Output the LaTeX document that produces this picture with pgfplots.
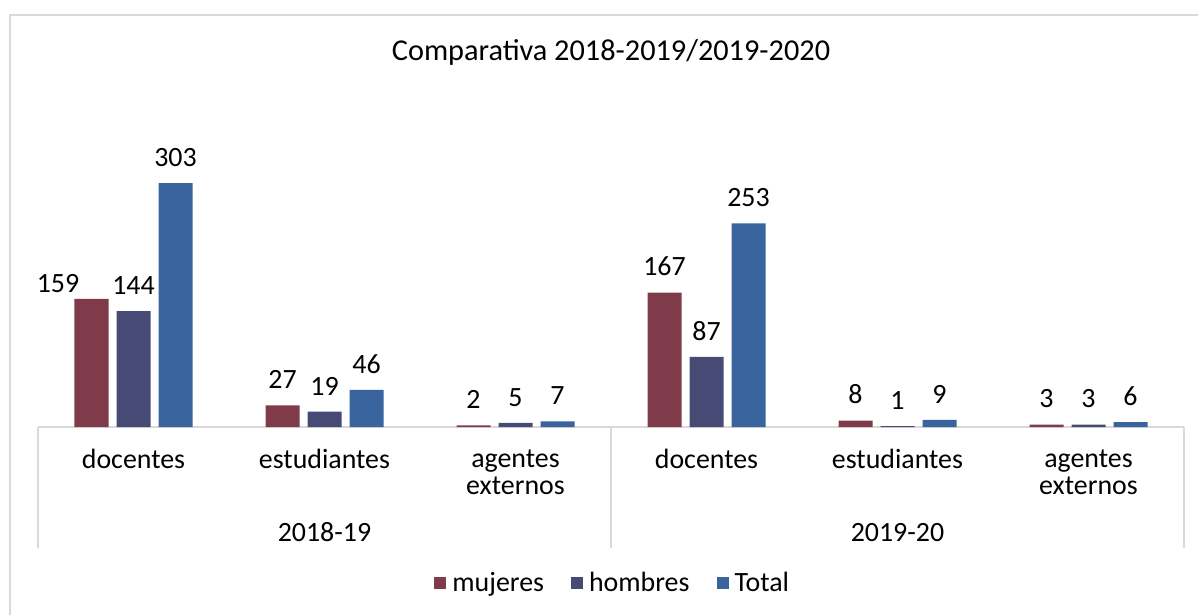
\documentclass[border=0pt]{standalone}
\usepackage{pgfplots}
\pgfplotsset{compat=1.18}
\usepackage{fontspec}
\setmainfont{Carlito}
\definecolor{cMuj}{RGB}{128,59,74}
\definecolor{cHom}{RGB}{72,74,118}
\definecolor{cTot}{RGB}{57,100,158}
\definecolor{cGrid}{RGB}{217,217,217}
\begin{document}
\begin{tikzpicture}
\useasboundingbox (0,0) rectangle (599bp,307.5bp);
\draw[cGrid, line width=1bp] (5bp,-5bp) -- (5bp,300bp) -- (605bp,300bp);
\node[font=\fontsize{15.2}{18}\selectfont] at (305.5bp,281.5bp) {Comparativa 2018-2019/2019-2020};
\begin{axis}[
  at={(19bp,94bp)}, anchor=south west,
  scale only axis, width=573bp, height=140.9bp,
  xmin=-0.5, xmax=5.5, ymin=0, ymax=350, enlargelimits=false,
  clip=false,
  ybar=4bp, bar width=17bp,
  hide y axis,
  axis x line*=bottom,
  x axis line style={cGrid, line width=1bp},
  xtick={0,1,2,3,4,5},
  xticklabels={docentes,estudiantes,{agentes\\externos},docentes,estudiantes,{agentes\\externos}},
  major tick length=0pt,
  x tick label style={align=center, font=\fontsize{14}{14}\selectfont, anchor=north, inner sep=0pt, yshift=-11bp},
  /pgf/number format/assume math mode=true,
  nodes near coords,
  every node near coord/.append style={font=\fontsize{14}{16}\selectfont, inner sep=0pt, anchor=south, yshift=8bp, text=black},
  legend style={at={(0.502,-0.554)}, anchor=center, draw=none, fill=none, legend columns=3,
    font=\fontsize{14}{16}\selectfont,
    /tikz/every even column/.append style={column sep=12bp},
    /tikz/every odd column/.append style={column sep=1.5bp},
    nodes={inner sep=1.5bp}},
  legend image code/.code={\fill[#1] (0bp,-3bp) rectangle (6bp,3bp);},
]
\addplot[fill=cMuj, draw=none, visualization depends on={rawx \as \rawx},
  nodes near coords style={xshift={ifthenelse(\rawx<0.5,-16.75bp,0bp)}, yshift={ifthenelse(\rawx<0.5,-5bp,0bp)}}]
  coordinates {(0,159) (1,27) (2,2) (3,167) (4,8) (5,3)};
\addplot[fill=cHom, draw=none] coordinates {(0,144) (1,19) (2,5) (3,87) (4,1) (5,3)};
\addplot[fill=cTot, draw=none] coordinates {(0,303) (1,46) (2,7) (3,253) (4,9) (5,6)};
\legend{mujeres,hombres,Total}
\draw[cGrid, line width=1bp] (axis cs:-0.5,0) -- ([yshift=-60.5bp]axis cs:-0.5,0);
\draw[cGrid, line width=1bp] (axis cs:2.5,0) -- ([yshift=-60.5bp]axis cs:2.5,0);
\draw[cGrid, line width=1bp] (axis cs:5.5,0) -- ([yshift=-60.5bp]axis cs:5.5,0);
\node[font=\fontsize{14}{16}\selectfont, anchor=base] at ([yshift=-57bp]axis cs:1,0) {2018-19};
\node[font=\fontsize{14}{16}\selectfont, anchor=base] at ([yshift=-57bp]axis cs:4,0) {2019-20};
\end{axis}
\end{tikzpicture}
\end{document}
